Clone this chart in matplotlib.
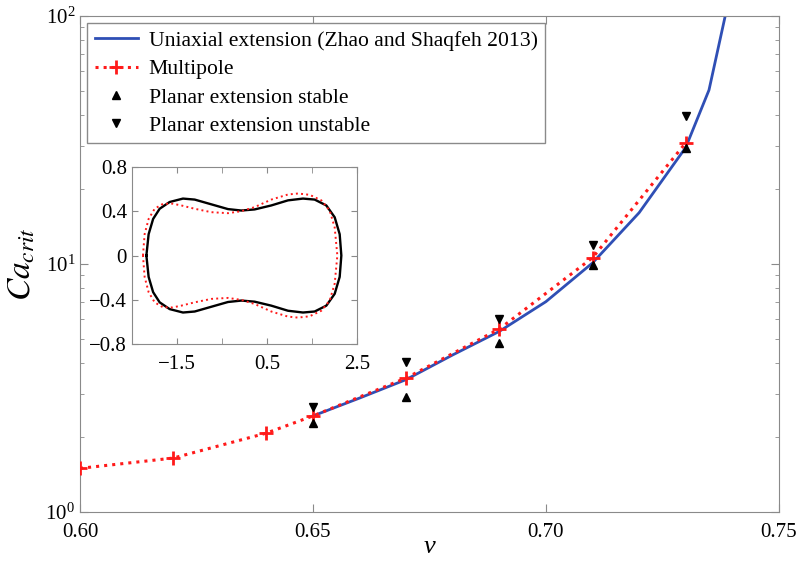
import matplotlib
matplotlib.use("Agg")
import matplotlib.pyplot as plt
import numpy as np

plt.rcParams['font.family'] = ['Liberation Serif', 'DejaVu Serif']
plt.rcParams['mathtext.fontset'] = 'stix'

# uniaxial extension curve (Zhao and Shaqfeh 2013)
nu_uni = [0.65, 0.66, 0.67, 0.68, 0.69, 0.70, 0.71, 0.72, 0.73, 0.735, 0.74]
ca_uni = [2.44, 2.88, 3.42, 4.30, 5.35, 7.05, 10.1, 16.1, 29.5, 50.3, 135.0]

# multipole
nu_mp = [0.60, 0.62, 0.64, 0.65, 0.67, 0.69, 0.71, 0.73]
ca_mp = [1.50, 1.65, 2.08, 2.44, 3.47, 5.47, 10.6, 30.8]

# planar extension
nu_pl = [0.65, 0.67, 0.69, 0.71, 0.73]
ca_stable = [2.29, 2.91, 4.80, 9.9, 29.4]
ca_unstable = [2.65, 4.03, 6.00, 11.9, 39.5]

# inset drop shapes, upper halves (mirrored for lower)
blk_x = [-2.18, -2.13, -2.03, -1.885, -1.663, -1.367, -1.107, -0.737, -0.367,
         -0.070, 0.226, 0.596, 0.967, 1.30, 1.559, 1.818, 2.004, 2.115, 2.152]
blk_y = [0.0, 0.193, 0.331, 0.423, 0.484, 0.515, 0.506, 0.463, 0.420,
         0.407, 0.417, 0.453, 0.499, 0.515, 0.506, 0.453, 0.346, 0.193, 0.0]
red_x = [-2.256, -2.219, -2.13, -1.996, -1.811, -1.60, -1.404, -1.107, -0.737,
         -0.367, -0.070, 0.226, 0.596, 0.967, 1.189, 1.448, 1.707, 1.893, 2.004, 2.063]
red_y = [0.0, 0.193, 0.331, 0.423, 0.468, 0.469, 0.453, 0.423, 0.392,
         0.383, 0.401, 0.438, 0.506, 0.552, 0.561, 0.549, 0.499, 0.407, 0.254, 0.0]

spine_col = '#8a8a8a'
blue = '#2f4fb5'
red = '#ff1a1a'

fig = plt.figure(figsize=(7.96, 5.64), dpi=100)
ax = fig.add_axes([0.1005, 0.0922, 0.878, 0.8794])

ax.plot(nu_uni, ca_uni, color=blue, lw=2, label='Uniaxial extension (Zhao and Shaqfeh 2013)', zorder=2)
ax.plot(nu_mp, ca_mp, color=red, ls=':', lw=2.2, marker='+', ms=10, mew=2,
        label='Multipole', zorder=3)
ax.plot(nu_pl, ca_stable, ls='none', marker='^', color='k', ms=6,
        label='Planar extension stable', zorder=4)
ax.plot(nu_pl, ca_unstable, ls='none', marker='v', color='k', ms=6,
        label='Planar extension unstable', zorder=4)

ax.set_yscale('log')
ax.set_xlim(0.60, 0.75)
ax.set_ylim(1, 100)
ax.set_xticks([0.60, 0.65, 0.70, 0.75])
ax.set_xticklabels(['0.60', '0.65', '0.70', '0.75'])
ax.tick_params(which='both', direction='in', top=True, right=True, color=spine_col,
               labelsize=15)
ax.tick_params(axis='x', pad=8)
ax.tick_params(which='major', length=6)
ax.tick_params(which='minor', length=3)
for s in ax.spines.values():
    s.set_color(spine_col)
ax.set_xlabel('ν', fontsize=19, fontstyle='italic')
ax.xaxis.set_label_coords(0.5, -0.048)
ax.set_ylabel(r'$Ca_{crit}$', fontsize=24, labelpad=6)

leg = ax.legend(loc='upper left', bbox_to_anchor=(0.01, 0.986), fontsize=15.6,
                numpoints=1, fancybox=False, framealpha=1, edgecolor=spine_col,
                handlelength=2.0, handletextpad=0.5, borderaxespad=0,
                labelspacing=0.38, borderpad=0.35)

# inset
ins = fig.add_axes([0.1658, 0.390, 0.2827, 0.3138])
ins.plot(blk_x + blk_x[::-1], blk_y + [-v for v in blk_y[::-1]], color='k', lw=1.7)
ins.plot(red_x + red_x[::-1], red_y + [-v for v in red_y[::-1]], color=red, ls=':', lw=1.4)
ins.set_xlim(-2.5, 2.5)
ins.set_ylim(-0.8, 0.8)
ins.set_xticks([-1.5, 0.5, 2.5])
ins.set_xticks([-2.5, -0.5, 1.5], minor=True)
ins.set_yticks([-0.8, -0.4, 0, 0.4, 0.8])
ins.set_yticklabels(['\u22120.8', '\u22120.4', '0', '0.4', '0.8'])
ins.set_xticklabels(['\u22121.5', '0.5', '2.5'])
ins.tick_params(which='both', direction='in', top=True, right=True, color=spine_col,
                labelsize=15, length=4)
ins.tick_params(axis='x', pad=8)
for s in ins.spines.values():
    s.set_color(spine_col)

fig.savefig('out.png', dpi=100)
